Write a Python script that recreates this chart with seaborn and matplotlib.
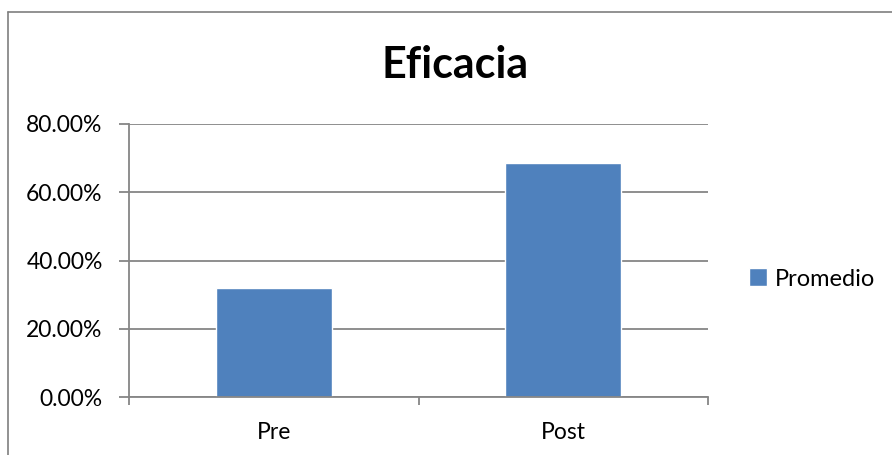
import matplotlib
matplotlib.use("Agg")
import matplotlib.pyplot as plt
from matplotlib.lines import Line2D
from matplotlib.ticker import FuncFormatter, FixedLocator
import seaborn as sns
import pandas as pd

categories = ["Pre", "Post"]
promedio = [0.319, 0.686]
series_name = "Promedio"
y_ticks = [0.0, 0.2, 0.4, 0.6, 0.8]

sns.set_theme(style="white")
plt.rcParams["font.family"] = ["Lato", "DejaVu Sans"]
plt.rcParams["text.color"] = "black"

df = pd.DataFrame({"fase": categories, "valor": promedio, "serie": series_name})

W, H = 892, 455
fig = plt.figure(figsize=(W / 100, H / 100), dpi=100)
ax = fig.add_axes([129 / W, 1 - 397 / H, (708 - 129) / W, (397 - 124) / H])

bar_color = "#4F81BD"
sns.barplot(data=df, x="fase", y="valor", hue="serie", palette=[bar_color],
            width=0.4, ax=ax, legend=True, saturation=1)

grid_color = "#868686"
ax.set_ylim(0, 0.8)
ax.set_xlim(-0.5, 1.5)
ax.yaxis.set_major_locator(FixedLocator(y_ticks))
ax.yaxis.set_major_formatter(FuncFormatter(lambda v, _: f"{v * 100:.2f}%"))
ax.yaxis.grid(True, color=grid_color, linewidth=1.3)
ax.set_axisbelow(True)
ax.set_xlabel("")
ax.set_ylabel("")

for side in ["top", "right"]:
    ax.spines[side].set_visible(False)
for side in ["left", "bottom"]:
    ax.spines[side].set_color(grid_color)
    ax.spines[side].set_linewidth(1.3)

ax.tick_params(axis="y", which="major", direction="out", length=7, width=1.3,
               color=grid_color, labelsize=16.5, labelcolor="black", pad=12, left=True)
ax.tick_params(axis="x", which="major", length=0, labelsize=16.5,
               labelcolor="black", pad=18)
ax.xaxis.set_minor_locator(FixedLocator([-0.5, 0.5, 1.5]))
ax.tick_params(axis="x", which="minor", direction="out", length=6, width=1.3,
               color=grid_color, bottom=True)

fig.suptitle("Eficacia", x=455 / W, y=1 - 65 / H, fontsize=31,
             fontweight="bold", va="center", color="black")

handles, labels = ax.get_legend_handles_labels()
ax.legend(handles, labels, loc="center left", bbox_to_anchor=(732 / W, 1 - 279 / H),
          bbox_transform=fig.transFigure, frameon=False, fontsize=17,
          handlelength=0.8, handleheight=0.8, handletextpad=0.3, borderpad=0.2)

border = dict(color="#7F7F7F", linewidth=1.2)
fig.add_artist(Line2D([8 / W, 8 / W], [0, 1 - 12 / H], transform=fig.transFigure, **border))
fig.add_artist(Line2D([8 / W, 1], [1 - 12 / H, 1 - 12 / H], transform=fig.transFigure, **border))

fig.savefig("out.png", dpi=100, facecolor="white")
